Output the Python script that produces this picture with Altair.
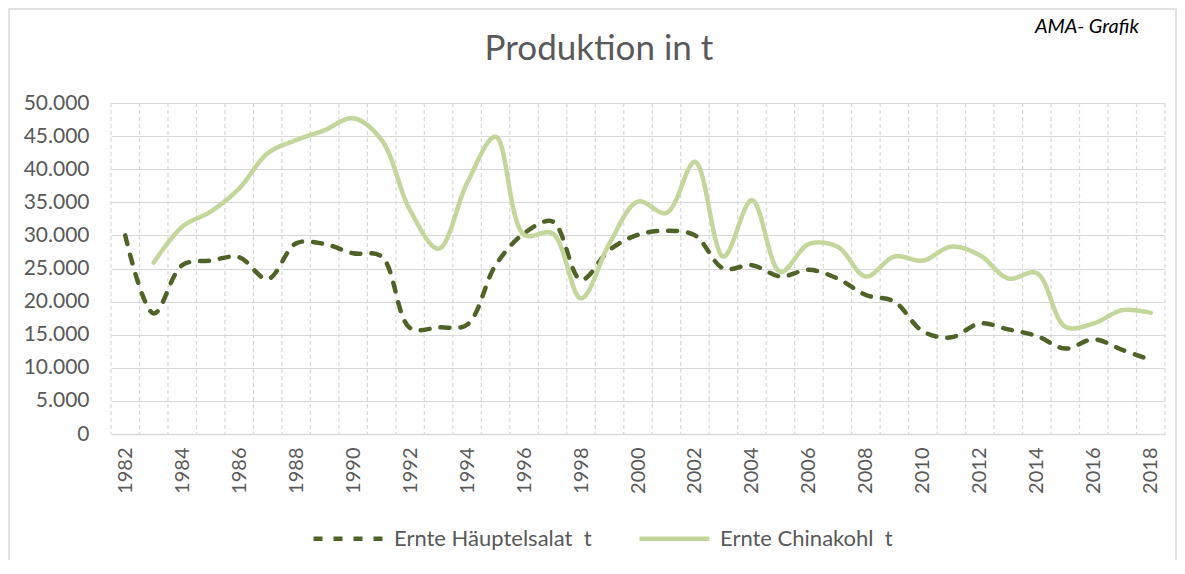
import altair as alt
import pandas as pd

years = list(range(1982, 2019))
salat = [30000, 18200, 25500, 26200, 26700, 23400, 28800, 28700, 27300, 26800,
         16000, 16100, 16500, 25500, 30300, 32100, 23300, 27800, 30100, 30700,
         30000, 25000, 25500, 23800, 24800, 23500, 21000, 20000, 15500, 14600,
         16700, 15800, 14800, 12900, 14300, 12700, 11200]
kohl_years = list(range(1983, 2019))
kohl = [25900, 31300, 33600, 37100, 42400, 44400, 45900, 47700, 44400, 33800,
        28000, 37900, 44900, 30100, 30300, 20500, 28800, 35100, 33400, 41100,
        26800, 35300, 24500, 28700, 28300, 23800, 26800, 26200, 28300, 27000,
        23500, 24300, 16200, 16700, 18700, 18300]
label_years = years[::2]
y_ticks = list(range(0, 50001, 5000))

S1 = "Ernte Häuptelsalat  t"
S2 = "Ernte Chinakohl  t"
DARK = "#4F6228"
LIGHT = "#C3D69B"
GRID = "#D9D9D9"
TXT = "#595959"
FONT = "Lato"

df = pd.DataFrame({
    "Jahr": years + kohl_years,
    "Wert": salat + kohl,
    "Serie": [S1] * len(years) + [S2] * len(kohl_years),
})
grid_df = pd.DataFrame({"b": [y - 0.5 for y in years] + [years[-1] + 0.5]})
note_df = pd.DataFrame({"t": ["AMA- Grafik"]})
title_df = pd.DataFrame({"t": ["Produktion in t"]})

W, H = 1054, 331

xscale = alt.Scale(domain=[years[0] - 0.5, years[-1] + 0.5], nice=False, zero=False)
yscale = alt.Scale(domain=[0, 50000], nice=False)

xaxis = alt.Axis(values=label_years, format="d", labelAngle=270, ticks=False, grid=False,
                 domainColor=GRID, domainWidth=1.5, labelFontSize=20, labelColor=TXT,
                 labelFont=FONT, labelPadding=13, title=None)
yaxis = alt.Axis(values=y_ticks, labelExpr="replace(format(datum.value, ','), ',', '.')",
                 ticks=False, domain=False, grid=True, gridColor=GRID, gridWidth=1.2,
                 labelFontSize=21, labelColor=TXT, labelFont=FONT, labelPadding=22, title=None)

leg = alt.Legend(title=None, orient="none", legendX=200, legendY=398, direction="horizontal",
                 symbolType="stroke", symbolSize=4900, symbolStrokeWidth=4.5,
                 labelFontSize=22, labelColor=TXT, labelFont=FONT, labelOffset=8,
                 columnPadding=38, labelLimit=400,
                 labelExpr="replace(datum.label, '  ', '\u00a0\u00a0')")

vgrid = alt.Chart(grid_df).mark_rule(color=GRID, strokeDash=[4, 3], strokeWidth=1.2).encode(
    x=alt.X("b:Q", scale=xscale, axis=xaxis)
)

lines = alt.Chart(df).mark_line(interpolate="catmull-rom", strokeCap="round", strokeWidth=4.5).encode(
    x=alt.X("Jahr:Q", scale=xscale, axis=xaxis),
    y=alt.Y("Wert:Q", scale=yscale, axis=yaxis),
    color=alt.Color("Serie:N", scale=alt.Scale(domain=[S1, S2], range=[DARK, LIGHT]), legend=leg),
    strokeDash=alt.StrokeDash("Serie:N", scale=alt.Scale(domain=[S1, S2], range=[[9, 11], [1, 0]]), legend=leg),
)

note = alt.Chart(note_df).mark_text(align="left", baseline="middle", fontStyle="italic",
                                    fontSize=20, font=FONT, color="#000000").encode(
    text="t:N", x=alt.value(924), y=alt.value(-76)
)

title = alt.Chart(title_df).mark_text(align="center", baseline="alphabetic",
                                      fontSize=35, font=FONT, color=TXT).encode(
    text="t:N", x=alt.value(488), y=alt.value(-43)
)

border = alt.Chart(note_df).mark_rect(fill="transparent", stroke=GRID, strokeWidth=1.5).encode(
    x=alt.value(-102), x2=alt.value(1065), y=alt.value(-94), y2=alt.value(462)
)

chart = alt.layer(border, vgrid, lines, note, title).properties(
    width=W, height=H,
    padding={"left": 103, "top": 95, "right": 12, "bottom": 126},
    autosize="none",
).configure_view(stroke=None)

chart.save("out.html", embed_options={"renderer": "svg", "actions": False})
